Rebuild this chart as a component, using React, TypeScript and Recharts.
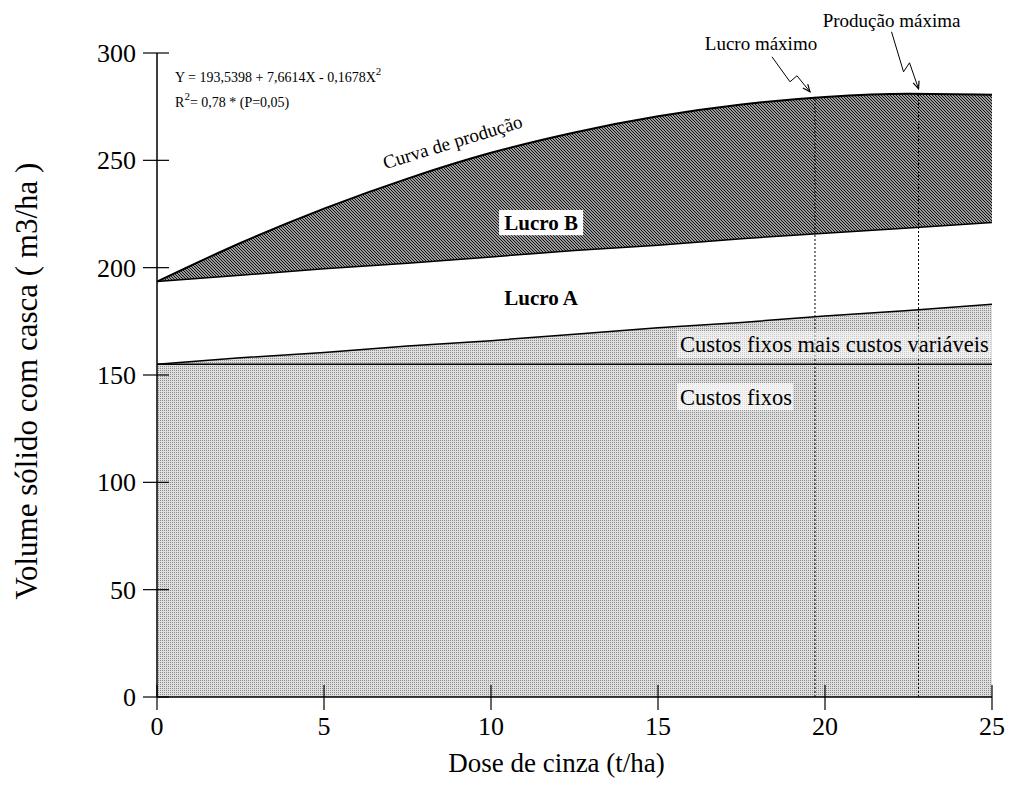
import React from "react";
import { ComposedChart, Area, Line, XAxis, YAxis, ReferenceLine, ReferenceDot } from "recharts";

// valores (dose de cinza em t/ha, volume em m3/ha)
const doses = [0, 2.5, 5, 7.5, 10, 12.5, 15, 17.5, 20, 22.5, 25];
const producao = [193.5, 211.5, 227.5, 241.5, 253.5, 263, 270.5, 276, 279.5, 281, 280.5];
const custosMaisLucroA = [193.5, 196.5, 199.5, 202, 205, 208, 210.5, 213.5, 216, 218.5, 221];
const custosVariaveis = [155, 158, 160.5, 163.5, 166, 169, 172, 174.5, 177.5, 180, 183];
const custosFixos = 155;

const xTicks = [0, 5, 10, 15, 20, 25];
const yTicks = [0, 50, 100, 150, 200, 250, 300];

const marcos = [
  { dose: 19.7, volume: 279.6, nome: "Lucro máximo" },
  { dose: 22.8, volume: 281, nome: "Produção máxima" },
];

const equacao = "Y = 193,5398 + 7,6614X - 0,1678X";
const r2 = "= 0,78 * (P=0,05)";

const data = doses.map((d, i) => ({
  dose: d,
  prod: producao[i],
  base: custosMaisLucroA[i],
  cv: custosVariaveis[i],
  faixa: [custosMaisLucroA[i], producao[i]],
}));

const FONT = "Liberation Serif, Times New Roman, serif";

const YTick = (props: any) => {
  const { x, y, payload } = props;
  return (
    <g>
      <line x1={x - 14} x2={x + 12} y1={y} y2={y} stroke="#000" strokeWidth={1.2} />
      <text x={x - 21} y={y + 9} textAnchor="end" fontSize={26} fill="#000" fontFamily={FONT}>
        {payload.value}
      </text>
    </g>
  );
};

const XTick = (props: any) => {
  const { x, y, payload } = props;
  return (
    <g>
      <line x1={x} x2={x} y1={y - 12} y2={y + 13} stroke="#000" strokeWidth={1.2} />
      <text x={x} y={y + 38} textAnchor="middle" fontSize={26} fill="#000" fontFamily={FONT}>
        {payload.value}
      </text>
    </g>
  );
};

// seta em zigue-zague com o texto acima
const zigzag = (nome: string, pts: number[][], txt: number[]) => (p: any) => {
  const { cx, cy } = p;
  const d = pts.map((q, i) => `${i ? "L" : "M"}${cx + q[0]},${cy + q[1]}`).join(" ");
  const a = pts[pts.length - 2];
  const b = pts[pts.length - 1];
  const ang = Math.atan2(b[1] - a[1], b[0] - a[0]);
  const hx = cx + b[0];
  const hy = cy + b[1];
  const h1 = `M${hx - 8 * Math.cos(ang - 0.4)},${hy - 8 * Math.sin(ang - 0.4)} L${hx},${hy} L${hx - 8 * Math.cos(ang + 0.4)},${hy - 8 * Math.sin(ang + 0.4)}`;
  return (
    <g>
      <path d={d} fill="none" stroke="#000" strokeWidth={1} />
      <path d={h1} fill="none" stroke="#000" strokeWidth={1.2} />
      <text x={cx + txt[0]} y={cy + txt[1]} textAnchor="middle" fontSize={19} fontFamily={FONT} fill="#000">
        {nome}
      </text>
    </g>
  );
};

const setaLucro = zigzag(marcos[0].nome, [[-43, -40], [-25, -15], [-18, -21], [-5, -5]], [-54, -47]);
const setaProd = zigzag(marcos[1].nome, [[-27, -62], [-15, -22], [-9, -31], [0, -5]], [-27, -67]);

const rotulo = (texto: string, opts: any) => (p: any) => {
  const { cx, cy } = p;
  const { size = 20, bold = false, anchor = "middle", fundo = null, w = 0, rot = 0 } = opts;
  return (
    <g transform={rot ? `rotate(${rot} ${cx} ${cy})` : undefined}>
      {fundo && (
        <rect
          x={anchor === "middle" ? cx - w / 2 : cx - 3}
          y={cy - size * 0.62}
          width={w}
          height={size * 1.2}
          fill={fundo}
        />
      )}
      <text
        x={cx}
        y={cy + size * 0.33}
        textAnchor={anchor}
        fontSize={size}
        fontWeight={bold ? "bold" : "normal"}
        fontFamily={FONT}
        fill="#000"
      >
        {texto}
      </text>
    </g>
  );
};

const eqShape = (p: any) => {
  const { cx, cy } = p;
  return (
    <g fontFamily={FONT} fill="#000">
      <text x={cx} y={cy} fontSize={14}>
        {equacao}
        <tspan fontSize={11} dy={-7}>2</tspan>
      </text>
      <text x={cx} y={cy + 25} fontSize={14}>
        R<tspan fontSize={11} dy={-7}>2</tspan>
        <tspan dy={7}>{r2}</tspan>
      </text>
    </g>
  );
};

export default function App() {
  return (
    <div style={{ position: "absolute", left: 0, top: 0, width: 1010, height: 793, background: "#fff" }}>
      <ComposedChart
        width={1010}
        height={793}
        data={data}
        margin={{ top: 53, right: 18, bottom: 26, left: 0 }}
        style={{ fontFamily: FONT }}
      >
        <defs>
          <pattern id="claro" width={2} height={2} patternUnits="userSpaceOnUse">
            <rect width={2} height={2} fill="#dedede" shapeRendering="crispEdges" />
            <rect width={1} height={1} fill="#8c8c8c" shapeRendering="crispEdges" />
          </pattern>
          <pattern id="escuro" width={3} height={3} patternUnits="userSpaceOnUse">
            <rect width={3} height={3} fill="#9a9a9a" shapeRendering="crispEdges" />
            <rect x={0} y={0} width={1} height={1} fill="#111" shapeRendering="crispEdges" />
            <rect x={1} y={1} width={1} height={1} fill="#111" shapeRendering="crispEdges" />
            <rect x={2} y={2} width={1} height={1} fill="#111" shapeRendering="crispEdges" />
          </pattern>
        </defs>
        <XAxis
          dataKey="dose"
          type="number"
          domain={[0, 25]}
          ticks={xTicks}
          tickSize={0}
          tickMargin={0}
          tickLine={false}
          tick={<XTick />}
          axisLine={{ stroke: "#000", strokeWidth: 1.5 }}
          height={70}
          interval={0}
          label={{
            content: (lp: any) => {
              const vb = lp.viewBox;
              return (
                <text x={vb.x + vb.width / 2 - 18} y={vb.y + 75} textAnchor="middle" fontSize={27} fontFamily={FONT} fill="#000">
                  Dose de cinza (t/ha)
                </text>
              );
            },
          }}
        />
        <YAxis
          type="number"
          domain={[0, 300]}
          ticks={yTicks}
          tickSize={0}
          tickMargin={0}
          tickLine={false}
          tick={<YTick />}
          axisLine={{ stroke: "#000", strokeWidth: 1.5 }}
          width={157}
          interval={0}
          label={{
            content: (lp: any) => {
              const vb = lp.viewBox;
              const cx = vb.x + 37;
              const cy = vb.y + vb.height / 2 + 6;
              return (
                <text x={cx} y={cy} transform={`rotate(-90 ${cx} ${cy})`} textAnchor="middle" fontSize={31} fontFamily={FONT} fill="#000">
                  Volume sólido com casca ( m3/ha )
                </text>
              );
            },
          }}
        />
        <Area type="linear" dataKey="cv" fill="url(#claro)" fillOpacity={1} stroke="#000" strokeWidth={1.5} isAnimationActive={false} dot={false} activeDot={false} />
        <Area type="monotone" dataKey="faixa" fill="url(#escuro)" fillOpacity={1} stroke="none" isAnimationActive={false} dot={false} activeDot={false} />
        <Line type="monotone" dataKey="prod" stroke="#000" strokeWidth={2} dot={false} activeDot={false} isAnimationActive={false} />
        <Line type="linear" dataKey="base" stroke="#000" strokeWidth={1.5} dot={false} activeDot={false} isAnimationActive={false} />
        <ReferenceLine y={custosFixos} stroke="#000" strokeWidth={1.5} />
        {marcos.map((m) => (
          <ReferenceLine
            key={m.nome}
            segment={[{ x: m.dose, y: 0 }, { x: m.dose, y: m.volume }]}
            stroke="#000"
            strokeWidth={1}
            strokeDasharray="2 2"
          />
        ))}
        <ReferenceDot x={marcos[0].dose} y={marcos[0].volume} r={0} shape={setaLucro} />
        <ReferenceDot x={marcos[1].dose} y={marcos[1].volume} r={0} shape={setaProd} />
        <ReferenceDot x={8.85} y={258.5} r={0} shape={rotulo("Curva de  produção", { size: 19, rot: -17 })} />
        <ReferenceDot x={11.5} y={220.8} r={0} shape={rotulo("Lucro B", { size: 21, bold: true, fundo: "#fff", w: 84 })} />
        <ReferenceDot x={11.5} y={185.8} r={0} shape={rotulo("Lucro A", { size: 21, bold: true })} />
        <ReferenceDot x={15.66} y={164} r={0} shape={rotulo("Custos fixos mais custos variáveis", { size: 22.5, anchor: "start", fundo: "rgba(255,255,255,0.55)", w: 314 })} />
        <ReferenceDot x={15.66} y={139.7} r={0} shape={rotulo("Custos fixos", { size: 22.5, anchor: "start", fundo: "rgba(255,255,255,0.7)", w: 116 })} />
        <ReferenceDot x={0.54} y={286.4} r={0} shape={eqShape} />
      </ComposedChart>
    </div>
  );
}
